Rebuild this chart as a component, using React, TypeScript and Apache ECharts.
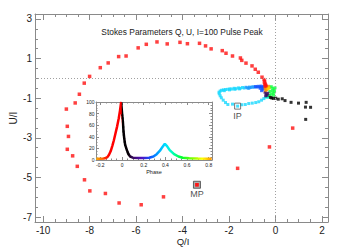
import { useEffect, useRef } from "react";
import * as echarts from "echarts";

// ---- tick values ----
const xMajorTicks = [-10, -8, -6, -4, -2, 0, 2];
const yMajorTicks = [-7, -5, -3, -1, 1, 3];
const insetXTicks = [-0.2, 0.0, 0.2, 0.4, 0.6, 0.8];
const insetYTicks = [0, 20, 40, 60, 80, 100];

// ---- main plot data (Q/I, U/I) ----
const redQ = [-0.48, -0.58, -0.74, -0.87, -1.01, -1.27, -1.45, -1.51, -1.85, -2.13, -2.29, -2.77, -3.01, -3.27, -3.79, -4.11, -4.66, -5.10, -5.56, -5.91, -6.43, -6.75, -7.20, -7.54, -8.00, -8.23, -8.44, -8.62, -9.00, -8.96, -8.91, -8.96, -8.73, -8.53, -8.22, -7.99, -7.32, -6.73, -5.78, -4.82, -3.38, -1.63, -0.26, 0.74];
const redU = [-0.18, 0.06, 0.31, 0.46, 0.63, 0.77, 0.91, 1.03, 1.13, 1.27, 1.40, 1.49, 1.64, 1.77, 1.75, 1.82, 1.74, 1.84, 1.72, 1.54, 1.13, 1.10, 0.78, 0.54, 0.10, -0.24, -0.80, -1.24, -1.55, -2.42, -2.93, -3.58, -3.91, -4.44, -5.12, -5.68, -5.81, -6.29, -6.38, -5.98, -5.37, -4.54, -3.46, -2.51];
const redCoreQ = [-0.50, -0.46, -0.44, -0.42, -0.47, -0.40, -0.45];
const redCoreU = [-0.05, -0.12, -0.25, -0.32, -0.30, -0.38, -0.40];
const orangeQ = [-0.40, -0.34, -0.45, -0.30, -0.38, -0.42];
const orangeU = [-0.42, -0.48, -0.50, -0.40, -0.56, -0.60];
const yellowQ = [-0.28, -0.32];
const yellowU = [-0.48, -0.52];
const greenQ = [-0.25, -0.18, -0.12, -0.06, -0.04, -0.10, -0.18, -0.24, -0.14, -0.02, -0.26, -0.08];
const greenU = [-0.45, -0.42, -0.50, -0.58, -0.68, -0.75, -0.80, -0.66, -0.62, -0.48, -0.86, -0.85];
const tealQ = [-0.38, -0.32, -0.30];
const tealU = [-0.92, -0.95, -0.88];
const purpleQ = [-0.45, -0.40, -0.36, -0.42, -0.33];
const purpleU = [-0.70, -0.78, -0.85, -0.88, -0.75];
const blueQ = [-0.86, -0.80, -0.74, -0.68, -0.62, -0.57, -0.52, -0.66, -0.55, -0.48, -0.60];
const blueU = [-0.41, -0.44, -0.40, -0.43, -0.39, -0.45, -0.42, -0.50, -0.55, -0.50, -0.62];
const lightBlueQ = [-1.27, -1.20, -1.12, -1.05, -0.98, -0.92, -1.15];
const lightBlueU = [-0.45, -0.48, -0.44, -0.46, -0.42, -0.45, -0.50];
const cyanQ = [-2.43, -2.38, -2.32, -2.24, -2.15, -2.05, -1.96, -1.88, -1.78, -1.70, -1.60, -1.52, -1.42, -1.35, -2.20, -1.98, -1.75, -1.55, -2.42, -2.38, -2.33, -2.25, -2.15, -2.05, -1.85, -1.63, -1.45, -1.30, -1.15, -1.00, -0.85, -0.72, -0.60, -0.50, -0.42];
const cyanU = [-0.70, -0.64, -0.60, -0.58, -0.56, -0.55, -0.53, -0.54, -0.50, -0.52, -0.48, -0.50, -0.46, -0.49, -0.62, -0.58, -0.55, -0.53, -0.78, -0.88, -0.98, -1.10, -1.22, -1.32, -1.30, -1.40, -1.33, -1.32, -1.27, -1.25, -1.22, -1.18, -1.10, -1.02, -0.94];
const blackQ = [-0.09, 0.01, 0.12, 0.29, 0.41, 0.67, 0.99, 1.32, 1.29, 1.51, 1.30, -0.22, -0.16];
const blackU = [-1.01, -1.00, -1.05, -1.03, -1.12, -1.21, -1.25, -1.21, -1.45, -1.46, -2.07, -0.96, -0.99];
const ipPoint = [-1.63, -1.40];
const mpPoint = [-3.38, -5.37];

// ---- inset: intensity vs phase ----
const insetPhase = [-0.237, -0.2, -0.17, -0.15, -0.135, -0.12, -0.105, -0.09, -0.075, -0.06, -0.045, -0.03, -0.018, -0.008, 0.002, 0.008, 0.014, 0.02, 0.029, 0.045, 0.06, 0.075, 0.1, 0.15, 0.2, 0.25, 0.29, 0.32, 0.35, 0.375, 0.395, 0.415, 0.44, 0.48, 0.52, 0.56, 0.62, 0.7, 0.8, 0.827];
const insetIntensity = [2, 2, 2.5, 3.5, 5, 9, 15, 24, 34, 46, 58, 72, 86, 100, 77, 66, 49, 38, 26, 17, 10, 6, 4, 3.5, 3.5, 4, 6, 10, 16, 23, 28, 24, 17, 10, 6, 4, 3, 2.5, 2, 2];
const insetBlackPhase = [0.002, 0.005, 0.008, 0.011, 0.014, 0.017, 0.02, 0.025, 0.029, 0.037, 0.045, 0.052, 0.06];
const insetBlackIntensity = [77, 72, 66, 57, 49, 43, 38, 31, 26, 21, 17, 13, 10];

// colour scale along phase
const phaseStops: [number, string][] = [
  [-0.24, "#ffb000"], [-0.19, "#ff7000"], [-0.15, "#ff2000"], [-0.12, "#ff0000"],
  [-0.006, "#ff0000"], [0.0, "#000000"], [0.06, "#100010"], [0.1, "#3a0a60"],
  [0.18, "#5010c0"], [0.26, "#1050ff"], [0.33, "#00a0ff"], [0.4, "#00e0ff"],
  [0.46, "#00ffc0"], [0.55, "#00ff30"], [0.65, "#80ff00"], [0.74, "#ffff00"], [0.83, "#ff9000"],
];

function hexToRgb(h: string) {
  return [parseInt(h.slice(1, 3), 16), parseInt(h.slice(3, 5), 16), parseInt(h.slice(5, 7), 16)];
}
function colorAt(p: number) {
  if (p <= phaseStops[0][0]) return phaseStops[0][1];
  for (let i = 1; i < phaseStops.length; i++) {
    const [p1, c1] = phaseStops[i];
    const [p0, c0] = phaseStops[i - 1];
    if (p <= p1) {
      const t = (p - p0) / (p1 - p0);
      const a = hexToRgb(c0), b = hexToRgb(c1);
      const r = a.map((v, k) => Math.round(v + (b[k] - v) * t));
      return `rgb(${r[0]},${r[1]},${r[2]})`;
    }
  }
  return phaseStops[phaseStops.length - 1][1];
}

function steps(a: number, b: number, s: number) {
  const out: number[] = [];
  const n = Math.round((b - a) / s);
  for (let i = 0; i <= n; i++) out.push(+(a + i * s).toFixed(4));
  return out;
}

const zip = (a: number[], b: number[]) => a.map((v, i) => [v, b[i]]);

const AXIS_COLOR = "#8a8a8a";
const TEXT_COLOR = "#222";
const FONT = "Liberation Sans, Arial, sans-serif";

function axisGroup(
  dim: "x" | "y",
  gridIndex: number,
  min: number,
  max: number,
  majors: number[],
  minors: number[],
  label: any,
  majorLen: number,
  minorLen: number
) {
  const pos = dim === "x" ? ["bottom", "top"] : ["left", "right"];
  const base = {
    type: "value",
    gridIndex,
    min,
    max,
    splitLine: { show: false },
  };
  const lineOn = { show: true, onZero: false, lineStyle: { color: AXIS_COLOR, width: 1 } };
  const lineOff = { show: false, onZero: false };
  const tick = (vals: number[], len: number) => ({
    show: true, inside: true, length: len, customValues: vals, lineStyle: { color: AXIS_COLOR, width: 1 },
  });
  return [
    { ...base, position: pos[0], axisLine: lineOn, axisTick: tick(majors, majorLen), axisLabel: { ...label, customValues: majors } },
    { ...base, position: pos[0], axisLine: lineOff, axisTick: tick(minors, minorLen), axisLabel: { show: false } },
    { ...base, position: pos[1], axisLine: lineOn, axisTick: tick(majors, majorLen), axisLabel: { show: false } },
    { ...base, position: pos[1], axisLine: lineOff, axisTick: tick(minors, minorLen), axisLabel: { show: false } },
  ];
}

export default function App() {
  const ref = useRef<HTMLDivElement>(null);
  useEffect(() => {
    if (!ref.current) return;
    const chart = echarts.init(ref.current, undefined, { renderer: "svg" });

    const mainLabel = { show: true, fontSize: 10, color: TEXT_COLOR, fontFamily: FONT, margin: 3 };
    const insetLabel = { show: true, fontSize: 5, color: TEXT_COLOR, fontFamily: FONT, margin: 2 };

    const xAxes = [
      ...axisGroup("x", 0, -10.35, 2.26, xMajorTicks, steps(-10, 2, 0.5), mainLabel, 6, 3),
      ...axisGroup("x", 1, -0.24, 0.83, insetXTicks, steps(-0.2, 0.8, 0.05), insetLabel, 3, 1.5),
    ];
    const yAxes = [
      ...axisGroup("y", 0, -7.25, 3.25, yMajorTicks, steps(-7, 3, 0.5), mainLabel, 6, 3),
      ...axisGroup("y", 1, 0, 100, insetYTicks, steps(0, 100, 5), { ...insetLabel, margin: 1.5 }, 3, 1.5),
    ];

    const sampled = steps(-0.24, 0.83, 0.005).map(colorAt);

    const scatter = (q: number[], u: number[], color: string, size: number, extra: any = {}) => ({
      type: "scatter",
      xAxisIndex: 0,
      yAxisIndex: 0,
      symbol: "rect",
      symbolSize: size,
      itemStyle: { color },
      data: zip(q, u),
      silent: true,
      ...extra,
    });

    const series: any[] = [
      {
        type: "line",
        xAxisIndex: 0,
        yAxisIndex: 0,
        data: [],
        markLine: {
          silent: true,
          symbol: "none",
          label: { show: false },
          lineStyle: { type: [1, 2], color: "#a0a0a0", width: 1 },
          data: [{ yAxis: 0 }, { xAxis: 0 }],
        },
      },
      scatter(cyanQ, cyanU, "#18d8ff", 3),
      scatter(lightBlueQ, lightBlueU, "#1898ff", 3),
      scatter(blueQ, blueU, "#1050ff", 3),
      scatter(tealQ, tealU, "#00ffc0", 3),
      scatter(greenQ, greenU, "#10ff40", 3),
      scatter(purpleQ, purpleU, "#3a0a60", 3),
      scatter(orangeQ, orangeU, "#ff8c00", 3),
      scatter(yellowQ, yellowU, "#ffd000", 3),
      scatter(redCoreQ, redCoreU, "#ff1010", 3),
      scatter(blackQ, blackU, "#000000", 3),
      scatter(redQ, redU, "#ff1010", 3.5),
      {
        type: "scatter",
        xAxisIndex: 0,
        yAxisIndex: 0,
        symbol: "rect",
        symbolSize: 7,
        z: 1,
        itemStyle: { color: "#9a9a9a", borderColor: "#444", borderWidth: 1 },
        data: [mpPoint],
        label: { show: true, formatter: "MP", position: "bottom", distance: 1, fontSize: 9, color: TEXT_COLOR, fontFamily: FONT },
      },
      {
        type: "scatter",
        xAxisIndex: 0,
        yAxisIndex: 0,
        symbol: "rect",
        symbolSize: 6,
        z: 3,
        itemStyle: { color: "rgba(0,0,0,0)", borderColor: "#555", borderWidth: 1 },
        data: [ipPoint],
        label: { show: true, formatter: "IP", position: "bottom", distance: 2, fontSize: 9, color: TEXT_COLOR, fontFamily: FONT },
      },
      {
        type: "scatter",
        xAxisIndex: 0,
        yAxisIndex: 0,
        symbol: "rect",
        symbolSize: 3.5,
        z: 4,
        itemStyle: { color: "#ff1010" },
        data: [mpPoint],
      },
      {
        type: "line",
        xAxisIndex: 4,
        yAxisIndex: 4,
        showSymbol: false,
        lineStyle: { width: 2.5 },
        data: zip(insetPhase, insetIntensity),
        z: 5,
      },
      {
        type: "scatter",
        xAxisIndex: 4,
        yAxisIndex: 4,
        symbol: "rect",
        symbolSize: 2,
        itemStyle: { color: "#000" },
        data: zip(insetBlackPhase, insetBlackIntensity),
        z: 6,
      },
    ];
    const insetLineIndex = series.length - 2;

    chart.setOption({
      animation: false,
      backgroundColor: "#fff",
      grid: [
        { left: 35, top: 14, width: 293, height: 208, show: false, outerBoundsMode: "none", containLabel: false },
        {
          left: 96, top: 102, width: 116, height: 58, show: true, backgroundColor: "#fff",
          borderColor: AXIS_COLOR, borderWidth: 0, outerBoundsMode: "none", containLabel: false, z: 3,
        },
      ],
      xAxis: xAxes.map((a: any, i: number) => ({ ...a, z: i >= 4 ? 4 : 0 })),
      yAxis: yAxes.map((a: any, i: number) => ({ ...a, z: i >= 4 ? 4 : 0 })),
      visualMap: [
        {
          type: "continuous",
          show: false,
          seriesIndex: insetLineIndex,
          dimension: 0,
          min: -0.24,
          max: 0.83,
          inRange: { color: sampled },
        },
      ],
      graphic: [
        {
          type: "text", x: 182, y: 32, z: 10,
          style: { text: "Stokes Parameters Q, U, I=100 Pulse Peak", fontSize: 8.4, fill: TEXT_COLOR, fontFamily: FONT, textAlign: "center", textVerticalAlign: "middle" },
        },
        {
          type: "text", x: 13, y: 118, rotation: Math.PI / 2, z: 10,
          style: { text: "U/I", fontSize: 10, fill: TEXT_COLOR, fontFamily: FONT, textAlign: "center", textVerticalAlign: "middle" },
        },
        {
          type: "text", x: 183, y: 241.5, z: 10,
          style: { text: "Q/I", fontSize: 9.5, fill: TEXT_COLOR, fontFamily: FONT, textAlign: "center", textVerticalAlign: "middle" },
        },
        {
          type: "text", x: 154, y: 172, z: 10,
          style: { text: "Phase", fontSize: 5.5, fill: TEXT_COLOR, fontFamily: FONT, textAlign: "center", textVerticalAlign: "middle" },
        },
      ],
      series,
    });
    return () => chart.dispose();
  }, []);
  return <div ref={ref} style={{ position: "fixed", left: 0, top: 0, width: 339, height: 249 }} />;
}
